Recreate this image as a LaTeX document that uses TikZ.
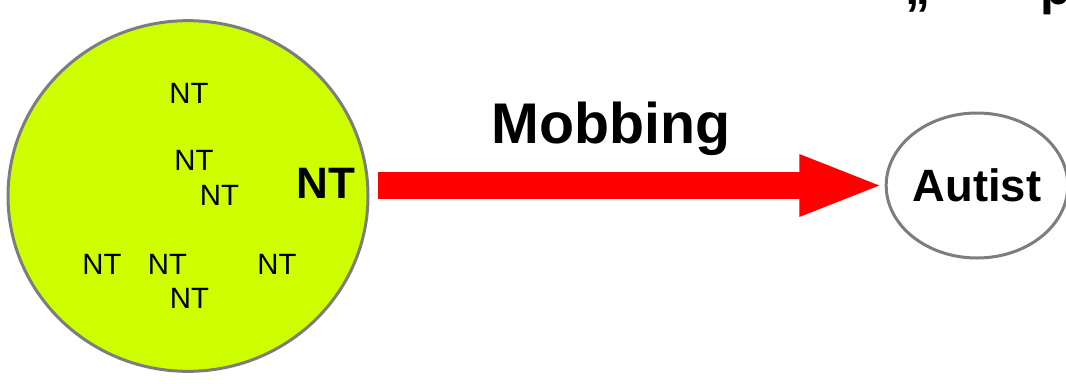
\documentclass[tikz,border=0pt]{standalone}
\usepackage{fontspec}
\setmainfont{Liberation Sans}
\usetikzlibrary{shapes.geometric,arrows.meta}
\definecolor{limegreen}{RGB}{206,255,0}
\definecolor{rimgray}{RGB}{125,125,125}
\begin{document}
\begin{tikzpicture}[x=0.75pt,y=-0.75pt,
    crowd/.style={ellipse,draw=rimgray,line width=2.25pt,fill=limegreen,minimum width=270pt,minimum height=263pt},
    loner/.style={ellipse,draw=rimgray,line width=2.25pt,fill=white,minimum width=124.5pt,minimum height=108.75pt,inner sep=0pt,font=\fontsize{34}{36}\selectfont\bfseries},
    small nt/.style={anchor=base,inner sep=0pt,font=\fontsize{22}{24}\selectfont},
    big nt/.style={anchor=base,inner sep=0pt,font=\fontsize{33}{36}\selectfont\bfseries},
    mobarrow/.style={draw=red,line width=20.5pt,-{Triangle[length=64pt,width=41.5pt]},shorten <=16.5pt} ]
    \useasboundingbox (0,0) rectangle (1066,383);
    \begin{scope}
    \clip (0,0) rectangle (1066,383);
    \node at (918,4.5) [anchor=base,inner sep=0pt,font=\fontsize{37.5}{40}\selectfont\bfseries] (q1) {„};
    \node at (1056,4.5) [anchor=base,inner sep=0pt,font=\fontsize{37.5}{40}\selectfont\bfseries] (q2) {p};
    \end{scope}
    \node at (188,196) [crowd] (G) {};
    \node at (189,103) [small nt] (n1) {NT};
    \node at (194,170.5) [small nt] (n2) {NT};
    \node at (219.5,205) [small nt] (n3) {NT};
    \node at (102,274) [small nt] (n4) {NT};
    \node at (167.5,274) [small nt] (n5) {NT};
    \node at (277,274) [small nt] (n6) {NT};
    \node at (189.5,308) [small nt] (n7) {NT};
    \node at (326,198) [big nt] (A) {NT};
    \node at (977,185.5) [loner] (B) {Autist};
    \node at (611,143.5) [anchor=base,inner sep=0pt,font=\fontsize{43}{46}\selectfont\bfseries] (m) {Mobbing};
    \coordinate (a1) at (A.east |- B.west);
    \draw [mobarrow] (a1) to (B.west);
\end{tikzpicture}
\end{document}
